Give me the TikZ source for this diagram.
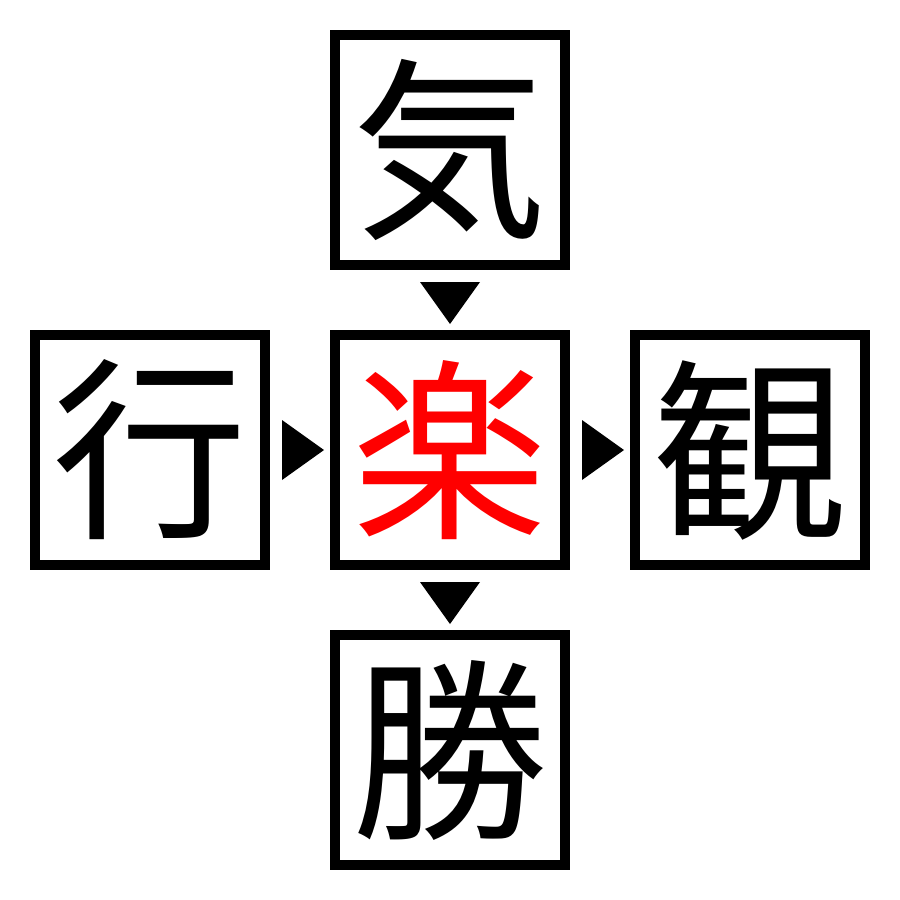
\documentclass[tikz,border=0pt]{standalone}
\usepackage{fontspec}
\newfontfamily\cjk{Noto Sans CJK JP}
\begin{document}
\begin{tikzpicture}[x=1pt,y=-1pt,
  kbox/.style={draw=black,line width=10pt,minimum width=230pt,minimum height=230pt,inner sep=0pt,font=\cjk\fontsize{195}{195}\selectfont},
  tri/.style={fill=black}]
\useasboundingbox (0,0) rectangle (900,900);
\node[kbox] (ki) at (450,150) {気};
\node[kbox] (gyo) at (150,450) {行};
\node[kbox,text=red] (raku) at (450,450) {楽};
\node[kbox] (kan) at (750,450) {観};
\node[kbox] (sho) at (450,750) {勝};
% triangles
\fill[tri] ([xshift=-30pt,yshift=-12pt]ki.south) -- ([xshift=30pt,yshift=-12pt]ki.south) -- ([yshift=-54pt]ki.south) -- cycle;
\fill[tri] ([xshift=-30pt,yshift=-12pt]raku.south) -- ([xshift=30pt,yshift=-12pt]raku.south) -- ([yshift=-54pt]raku.south) -- cycle;
\fill[tri] ([xshift=12pt,yshift=30pt]gyo.east) -- ([xshift=12pt,yshift=-30pt]gyo.east) -- ([xshift=54pt]gyo.east) -- cycle;
\fill[tri] ([xshift=12pt,yshift=30pt]raku.east) -- ([xshift=12pt,yshift=-30pt]raku.east) -- ([xshift=54pt]raku.east) -- cycle;
\end{tikzpicture}
\end{document}
